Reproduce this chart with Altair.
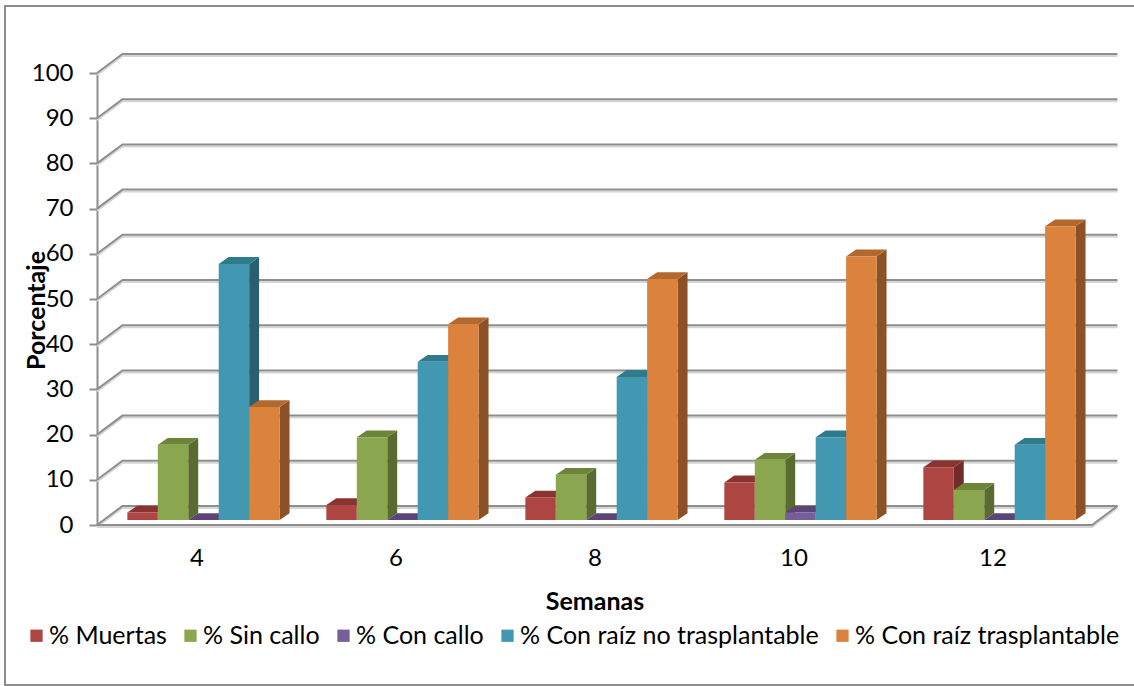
import altair as alt
import pandas as pd

# Categories, series and values (percent of plants per week)
weeks = ["4", "6", "8", "10", "12"]
series = [
    "% Muertas",
    "% Sin callo",
    "% Con callo",
    "% Con raíz no trasplantable",
    "% Con raíz trasplantable",
]
muertas = [1.67, 3.33, 5.0, 8.33, 11.67]
sin_callo = [16.67, 18.33, 10.0, 13.33, 6.67]
con_callo = [0.0, 0.0, 0.0, 1.67, 0.0]
raiz_no_trasplantable = [56.67, 35.0, 31.67, 18.33, 16.67]
raiz_trasplantable = [25.0, 43.33, 53.33, 58.33, 65.0]
values = [muertas, sin_callo, con_callo, raiz_no_trasplantable, raiz_trasplantable]
y_ticks = list(range(0, 101, 10))

# Face colours of the 3-D columns: front, top, side
front_colors = ["#AD4542", "#8AA64E", "#765E9A", "#4298B0", "#DB823C"]
top_colors = ["#8A3432", "#6C8538", "#5B4578", "#307A8D", "#B3692E"]
side_colors = ["#722B29", "#5A6B32", "#4C3A64", "#286070", "#8C5126"]

FONT = "Lato"
GRID = "#8E8E8E"
SHADOW = "#D6D6D6"

# Oblique projection of the box: x in category slots, y in percent
N = len(weeks)
WALL_DX, WALL_DY = 0.128, 4.2     # depth of the floor / side wall
ROW_DX, ROW_DY = 0.035, 1.1       # the row of columns sits a bit behind the front edge
DEPTH_DX, DEPTH_DY = 0.05, 1.5    # depth of each column
GAP = 0.1175                      # space before the first column of a group
BAR_W = 0.153                     # width of one column

fronts, tops, sides = [], [], []
for i, wk in enumerate(weeks):
    for k, name in enumerate(series):
        v = values[k][i]
        bid = f"b{i}_{k}"
        x0 = i + GAP + k * BAR_W + ROW_DX
        x1 = x0 + BAR_W
        fronts.append(dict(id=bid, series=name, x0=x0, x1=x1, y0=ROW_DY, y1=v + ROW_DY))
        # top face: horizontal edges, slanted sides
        tops.append(dict(id=bid, c=top_colors[k], ty=v + ROW_DY, xa=x0, xb=x1))
        tops.append(dict(id=bid, c=top_colors[k], ty=v + ROW_DY + DEPTH_DY,
                         xa=x0 + DEPTH_DX, xb=x1 + DEPTH_DX))
        # side face: vertical edges, slanted top and bottom
        sides.append(dict(id=bid, c=side_colors[k], sx=x1, ya=ROW_DY, yb=v + ROW_DY))
        sides.append(dict(id=bid, c=side_colors[k], sx=x1 + DEPTH_DX, ya=ROW_DY + DEPTH_DY,
                          yb=v + ROW_DY + DEPTH_DY))

grid = []
for v in y_ticks:
    grid.append(dict(g=f"g{v}", p=0, gx=0.0, gy=v))
    grid.append(dict(g=f"g{v}", p=1, gx=WALL_DX, gy=v + WALL_DY))
    grid.append(dict(g=f"g{v}", p=2, gx=N + WALL_DX, gy=v + WALL_DY))
floor = [
    dict(g="floor", p=0, gx=0.0, gy=0.0),
    dict(g="floor", p=1, gx=float(N), gy=0.0),
    dict(g="floor", p=2, gx=N + WALL_DX, gy=WALL_DY),
]
lines = pd.DataFrame(grid + floor)

xs = alt.Scale(domain=[0, N], nice=False, zero=False)
ys = alt.Scale(domain=[0, 100], nice=False, zero=False)

label_map = "{" + ", ".join(f"'{i + 0.5}': '{w}'" for i, w in enumerate(weeks)) + "}"

x_axis = alt.Axis(
    values=[i + 0.5 for i in range(N)],
    labelExpr=f"{label_map}[toString(datum.value)]",
    domain=False, ticks=False, grid=False,
    labelFont=FONT, labelFontSize=24, labelColor="#000000", labelPadding=21,
    title="Semanas", titleFont=FONT, titleFontSize=25, titleFontWeight="bold",
    titleColor="#000000", titlePadding=19,
)
y_axis = alt.Axis(
    values=y_ticks, grid=False,
    domainColor=GRID, domainWidth=2, tickColor=GRID, tickWidth=2, tickSize=8,
    labelFont=FONT, labelFontSize=24, labelColor="#000000", labelPadding=16,
    title="Porcentaje", titleFont=FONT, titleFontSize=25, titleFontWeight="bold",
    titleColor="#000000", titleX=-61, titleY=237, titleAngle=270,
    titleAlign="center", titleBaseline="middle",
)

grid_shadow = alt.Chart(lines).mark_line(color=SHADOW, strokeWidth=2, yOffset=2).encode(
    x=alt.X("gx:Q", scale=xs, axis=x_axis),
    y=alt.Y("gy:Q", scale=ys, axis=y_axis),
    detail="g:N",
    order="p:Q",
)
grid_lines = alt.Chart(lines).mark_line(color=GRID, strokeWidth=2).encode(
    x=alt.X("gx:Q", scale=xs, axis=x_axis),
    y=alt.Y("gy:Q", scale=ys, axis=y_axis),
    detail="g:N",
    order="p:Q",
)

side_layer = alt.Chart(pd.DataFrame(sides)).mark_area(orient="vertical", opacity=1).encode(
    x=alt.X("sx:Q", scale=xs, axis=x_axis),
    y=alt.Y("ya:Q", scale=ys, axis=y_axis),
    y2="yb:Q",
    detail="id:N",
    color=alt.Color("c:N", scale=None),
)
top_layer = alt.Chart(pd.DataFrame(tops)).mark_area(orient="horizontal", opacity=1).encode(
    y=alt.Y("ty:Q", scale=ys, axis=y_axis),
    x=alt.X("xa:Q", scale=xs, axis=x_axis),
    x2="xb:Q",
    detail="id:N",
    color=alt.Color("c:N", scale=None),
)
front_layer = alt.Chart(pd.DataFrame(fronts)).mark_rect().encode(
    x=alt.X("x0:Q", scale=xs, axis=x_axis),
    x2="x1:Q",
    y=alt.Y("y0:Q", scale=ys, axis=y_axis),
    y2="y1:Q",
    fill=alt.Fill(
        "series:N",
        scale=alt.Scale(domain=series, range=front_colors),
        legend=alt.Legend(
            orient="none", legendX=-73, legendY=550, direction="horizontal",
            title=None, symbolType="square", symbolSize=150, symbolStrokeWidth=0,
            labelFont=FONT, labelFontSize=25, labelColor="#000000", labelLimit=0,
            columnPadding=11, labelOffset=0,
        ),
    ),
)

frame = alt.Chart(pd.DataFrame({"a": [0]})).mark_rect(
    fillOpacity=0, stroke="#8C8C8C", strokeWidth=2
).encode(
    x=alt.value(-92), x2=alt.value(1050), y=alt.value(-67), y2=alt.value(612)
)

chart = alt.layer(
    grid_shadow, grid_lines, side_layer, top_layer, front_layer, frame
).properties(
    width=995, height=452,
    autosize=alt.AutoSizeParams(type="none"),
    padding={"left": 97, "top": 73, "right": 42, "bottom": 161},
    background="#FFFFFF",
).configure_view(stroke=None)

chart.save("out.html", embed_options={"renderer": "svg", "actions": False})
